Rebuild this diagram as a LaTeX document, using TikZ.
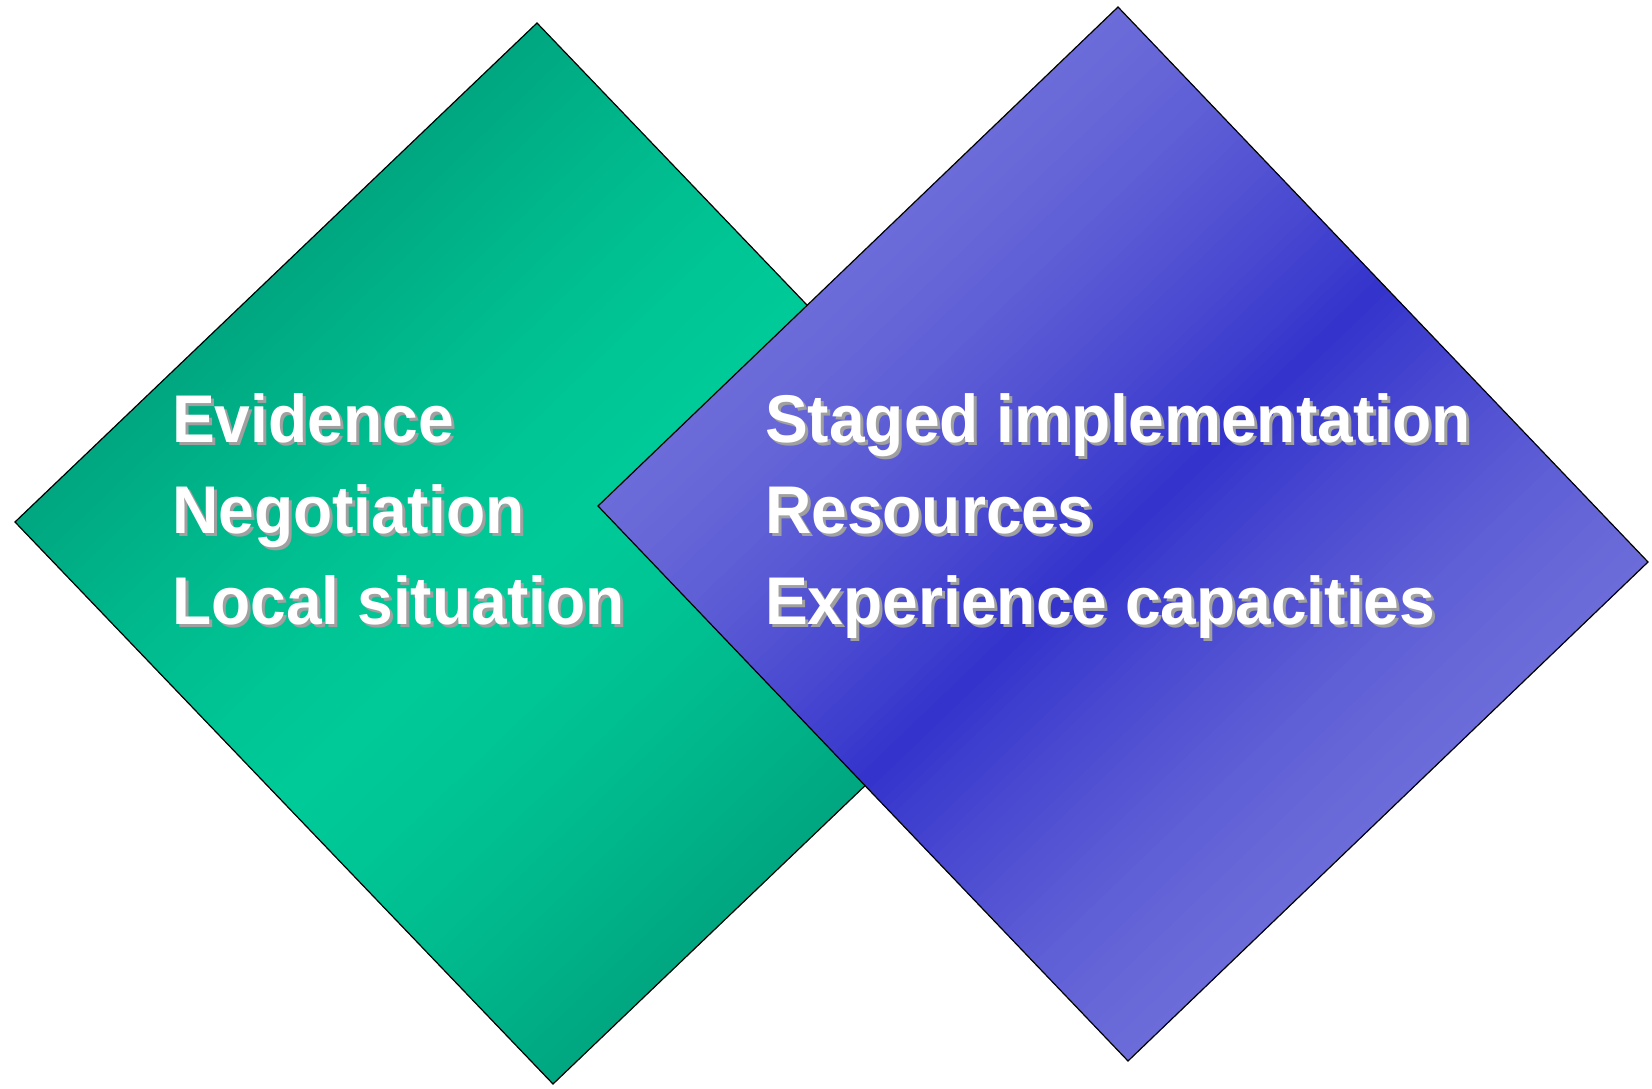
\documentclass[tikz,border=0pt]{standalone}
\usepackage{fontspec}
\newfontfamily\lblfont{Liberation Sans}[FakeStretch=0.95]
\usetikzlibrary{calc}
\definecolor{gdark}{RGB}{0,166,128}
\definecolor{glight}{RGB}{0,202,152}
\definecolor{bdark}{RGB}{51,51,204}
\definecolor{blight}{RGB}{107,107,217}
\definecolor{shadowgray}{RGB}{160,160,160}
\tikzset{
  lbl/.style={anchor=base west, inner sep=0pt, font=\lblfont\bfseries\fontsize{67.5}{80}\selectfont, text=white},
  lblshadow/.style={lbl, text=shadowgray},
  outline/.style={draw=black, line width=1.2pt, line join=miter},
}
\begin{document}
\begin{tikzpicture}[x=1pt,y=-1pt]
\useasboundingbox (0,0) rectangle (1652,1089);
% green diamond corners
\coordinate (gL) at (15,522);
\coordinate (gT) at (537,23);
\coordinate (gR) at (1075,585);
\coordinate (gB) at (553,1084);
% blue diamond corners
\coordinate (bL) at (598,506);
\coordinate (bT) at (1118,7);
\coordinate (bR) at (1648,562);
\coordinate (bB) at (1128,1061);
% green gradient
\foreach \i in {0,...,89}{
  \pgfmathsetmacro\ta{\i/90}
  \pgfmathsetmacro\tb{min((\i+1.6)/90,1)}
  \pgfmathtruncatemacro\p{round(100*(1-abs(2*(\i+0.5)/90-1)^1.4))}
  \fill[fill=glight!\p!gdark] ($(gL)!\ta!(gB)$) -- ($(gT)!\ta!(gR)$) -- ($(gT)!\tb!(gR)$) -- ($(gL)!\tb!(gB)$) -- cycle;
}
\draw[outline] (gL) -- (gT) -- (gR) -- (gB) -- cycle;
% blue gradient
\foreach \i in {0,...,89}{
  \pgfmathsetmacro\ta{\i/90}
  \pgfmathsetmacro\tb{min((\i+1.6)/90,1)}
  \pgfmathtruncatemacro\p{round(100*(1-abs(2*(\i+0.5)/90-1))^1.4)}
  \fill[fill=bdark!\p!blight] ($(bL)!\ta!(bB)$) -- ($(bT)!\ta!(bR)$) -- ($(bT)!\tb!(bR)$) -- ($(bL)!\tb!(bB)$) -- cycle;
}
\draw[outline] (bL) -- (bT) -- (bR) -- (bB) -- cycle;
% left texts
\node[lblshadow] (evs) at (175,445) {Evidence};
\node[lbl] (ev) at (172,442) {Evidence};
\node[lblshadow] (negs) at (175,536) {Negotiation};
\node[lbl] (neg) at (172,533) {Negotiation};
\node[lblshadow] (locs) at (175,627) {Local situation};
\node[lbl] (loc) at (172,624) {Local situation};
% right texts
\node[lblshadow] (stas) at (768,445) {Staged implementation};
\node[lbl] (sta) at (765,442) {Staged implementation};
\node[lblshadow] (ress) at (768,536) {Resources};
\node[lbl] (res) at (765,533) {Resources};
\node[lblshadow] (exps) at (768,627) {Experience capacities};
\node[lbl] (exp) at (765,624) {Experience capacities};
\end{tikzpicture}
\end{document}
